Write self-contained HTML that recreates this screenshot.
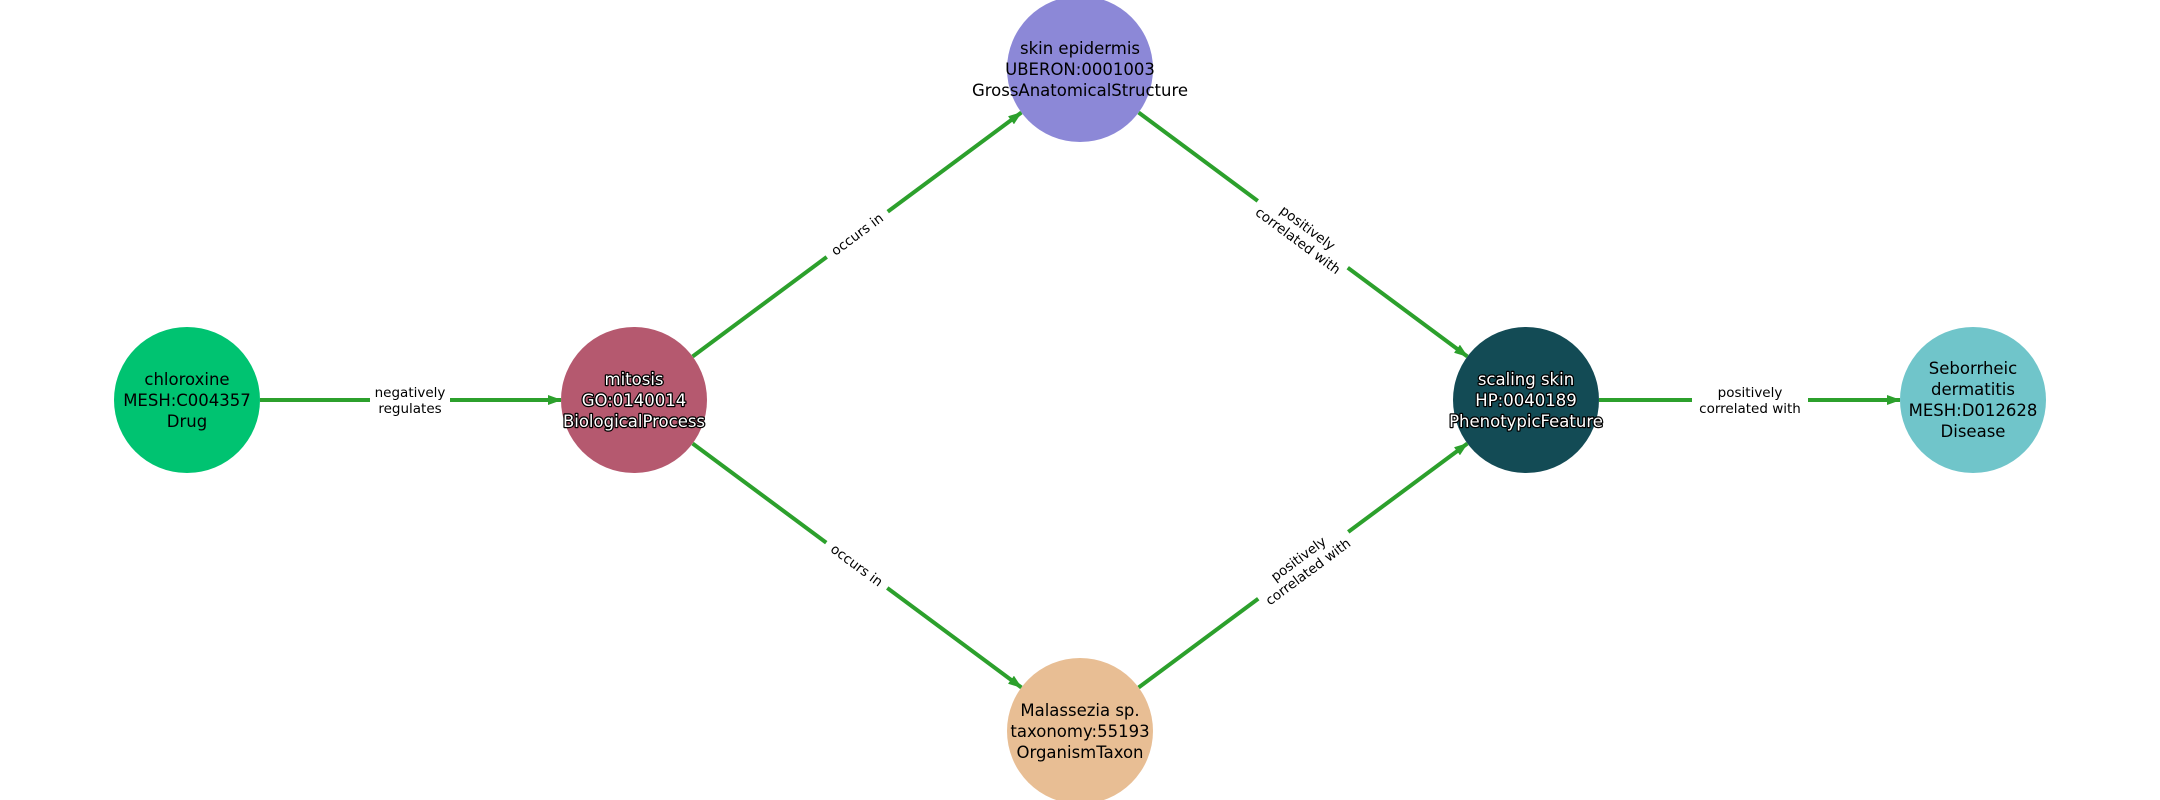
<!DOCTYPE html>
<html><head><meta charset="utf-8"><style>
html,body{margin:0;padding:0;background:#fff;}
svg{display:block;font-family:"DejaVu Sans","Liberation Sans",sans-serif;}
.n{font-size:16.5px;text-anchor:middle;fill:#000;}
.h{fill:#fff;stroke:#000;stroke-width:2.5px;paint-order:stroke;stroke-linejoin:round;}
.e{font-size:13.5px;text-anchor:middle;fill:#000;}
</style></head><body>
<svg width="2160" height="800" viewBox="0 0 2160 800">
<defs><marker id="a" markerUnits="userSpaceOnUse" markerWidth="14" markerHeight="10" refX="13" refY="5" orient="auto"><path d="M0,0 L14,5 L0,10 z" fill="#2ca02c"/></marker></defs>
<g stroke="#2ca02c" stroke-width="4" marker-end="url(#a)">
<line x1="260" y1="400" x2="561" y2="400"/>
<line x1="692.6" y1="356.5" x2="1021.4" y2="112.5"/>
<line x1="692.6" y1="443.5" x2="1021.4" y2="687.5"/>
<line x1="1138.6" y1="112.5" x2="1467.4" y2="356.5"/>
<line x1="1138.6" y1="687.5" x2="1467.4" y2="443.5"/>
<line x1="1599" y1="400" x2="1900" y2="400"/>
</g>
<circle cx="187" cy="400" r="73" fill="#00c371"/>
<circle cx="634" cy="400" r="73" fill="#b5596f"/>
<circle cx="1080" cy="69" r="73" fill="#8c88d7"/>
<circle cx="1080" cy="731" r="73" fill="#e8be94"/>
<circle cx="1526" cy="400" r="73" fill="#134b55"/>
<circle cx="1973" cy="400" r="73" fill="#70c5ca"/>
<g class="n">
<text x="187" y="385">chloroxine</text><text x="187" y="406">MESH:C004357</text><text x="187" y="427">Drug</text>
<text x="634" y="385" class="n h">mitosis</text><text x="634" y="406" class="n h">GO:0140014</text><text x="634" y="427" class="n h">BiologicalProcess</text>
<text x="1080" y="54">skin epidermis</text><text x="1080" y="75">UBERON:0001003</text><text x="1080" y="96">GrossAnatomicalStructure</text>
<text x="1080" y="716">Malassezia sp.</text><text x="1080" y="737">taxonomy:55193</text><text x="1080" y="758">OrganismTaxon</text>
<text x="1526" y="385" class="n h">scaling skin</text><text x="1526" y="406" class="n h">HP:0040189</text><text x="1526" y="427" class="n h">PhenotypicFeature</text>
<text x="1973" y="374">Seborrheic</text><text x="1973" y="395">dermatitis</text><text x="1973" y="416">MESH:D012628</text><text x="1973" y="437">Disease</text>
</g>
<g class="e">
<g transform="translate(410,400)"><rect x="-40" y="-20" width="80" height="38" fill="#fff"/><text y="-3">negatively</text><text y="13">regulates</text></g>
<g transform="translate(857,234) rotate(-36.6)"><rect x="-38" y="-12" width="76" height="22" fill="#fff"/><text y="5">occurs in</text></g>
<g transform="translate(857,565) rotate(36.6)"><rect x="-38" y="-12" width="76" height="22" fill="#fff"/><text y="5">occurs in</text></g>
<g transform="translate(1303,234) rotate(36.6)"><rect x="-56" y="-20" width="112" height="38" fill="#fff"/><text y="-3">positively</text><text y="13">correlated with</text></g>
<g transform="translate(1303,565) rotate(-36.6)"><rect x="-56" y="-20" width="112" height="38" fill="#fff"/><text y="-3">positively</text><text y="13">correlated with</text></g>
<g transform="translate(1750,400)"><rect x="-58" y="-20" width="116" height="38" fill="#fff"/><text y="-3">positively</text><text y="13">correlated with</text></g>
</g>
</svg>
</body></html>
